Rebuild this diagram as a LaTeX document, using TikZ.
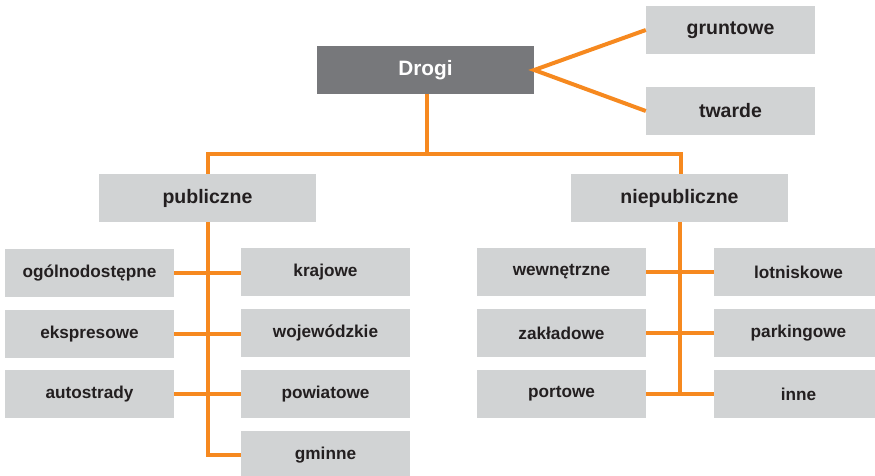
\documentclass[tikz,border=0pt]{standalone}
\usepackage{fontspec}
\setmainfont{Liberation Sans}
\definecolor{boxgray}{HTML}{D1D3D4}
\definecolor{darkbox}{HTML}{77787B}
\definecolor{txt}{HTML}{231F20}
\definecolor{orng}{HTML}{F6891F}
\begin{document}
\begin{tikzpicture}[x=1pt,y=-1pt,
  leaf/.style={fill=boxgray, draw=none, minimum width=169pt, minimum height=48pt, inner sep=0pt,
    text=txt, font=\fontsize{17.2}{20}\selectfont\bfseries},
  mid/.style={fill=boxgray, draw=none, minimum width=217pt, minimum height=48pt, inner sep=0pt,
    text=txt, font=\fontsize{19.5}{22}\selectfont\bfseries},
  top/.style={fill=darkbox, draw=none, minimum width=217pt, minimum height=48pt, inner sep=0pt,
    text=white, font=\fontsize{20.8}{24}\selectfont\bfseries},
  conn/.style={draw=orng, line width=4pt}]
\useasboundingbox (0,0) rectangle (875,476);
\node[top] (drogi) at (425.5,70) {Drogi};
\node[leaf,font=\fontsize{19.5}{22}\selectfont\bfseries] (grunt) at (730.5,30) {gruntowe};
\node[leaf,font=\fontsize{19.5}{22}\selectfont\bfseries] (twarde) at (730.5,111) {twarde};
\node[mid] (pub) at (207.5,198) {publiczne};
\node[mid] (niepub) at (679.5,198) {niepubliczne};
\node[leaf] (ogol) at (89.5,273) {ogólnodostępne};
\node[leaf] (eksp) at (89.5,334) {ekspresowe};
\node[leaf] (auto) at (89.5,394) {autostrady};
\node[leaf] (kraj) at (325.5,272) {krajowe};
\node[leaf] (woj) at (325.5,333) {wojewódzkie};
\node[leaf] (pow) at (325.5,394) {powiatowe};
\node[leaf] (gmin) at (325.5,455) {gminne};
\node[leaf] (wewn) at (561.5,272) {wewnętrzne};
\node[leaf] (zakl) at (561.5,333) {zakładowe};
\node[leaf] (port) at (561.5,394) {portowe};
\node[leaf] (lotn) at (798.5,272) {lotniskowe};
\node[leaf] (park) at (798.5,333) {parkingowe};
\node[leaf] (inne) at (798.5,394) {inne};
\coordinate (bus) at (0,154);
\draw[conn] ([xshift=1.5pt]drogi.south) -- ([xshift=1.5pt]drogi.south |- bus);
\draw[conn] (pub.north) -- (pub.north |- bus) -- ([xshift=1.5pt]niepub.north |- bus) -- ([xshift=1.5pt]niepub.north);
\draw[conn, line join=miter] (grunt.west) -- (drogi.east) -- (twarde.west);
\draw[conn] (pub.south) |- (gmin.west);
\draw[conn] (ogol.east) -- (kraj.west |- ogol.east);
\draw[conn] (eksp.east) -- (woj.west |- eksp.east);
\draw[conn] (auto.east) -- (pow.west);
\draw[conn] (niepub.south) -- (niepub.south |- inne.west);
\draw[conn] (wewn.east) -- (lotn.west);
\draw[conn] (zakl.east) -- (park.west);
\draw[conn] (port.east) -- (inne.west);
\end{tikzpicture}
\end{document}
